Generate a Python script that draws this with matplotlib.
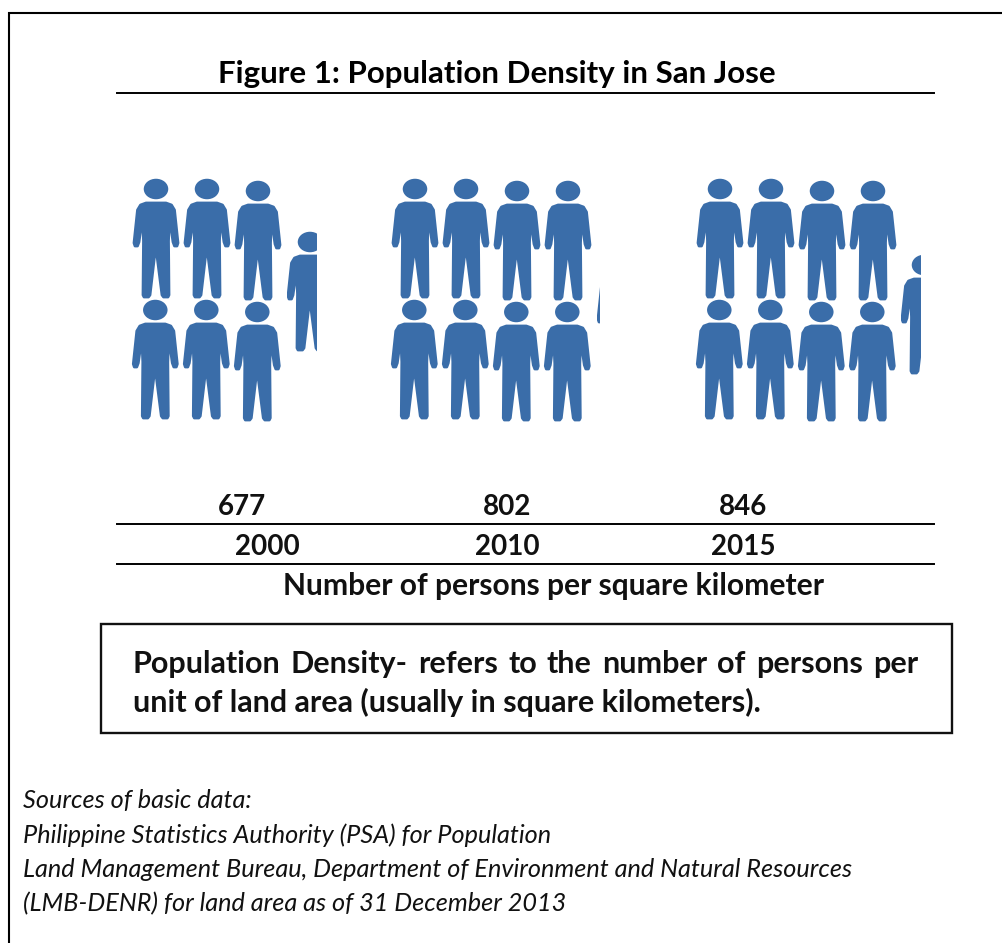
import numpy as np
import matplotlib
matplotlib.use("Agg")
import matplotlib.pyplot as plt
from matplotlib.path import Path
from matplotlib.patches import PathPatch, Ellipse, Rectangle

years = ["2000", "2010", "2015"]
density = [677, 802, 846]
partial_visible = [0.65, 0.06, 0.43]
title = "Figure 1: Population Density in San Jose"
unit_label = "Number of persons per square kilometer"
definition = ["Population Density- refers to the number of persons per",
              "unit of land area (usually in square kilometers)."]
sources = ["Sources of basic data:",
           "Philippine Statistics Authority (PSA) for Population",
           "Land Management Bureau, Department of Environment and Natural Resources",
           "(LMB-DENR) for land area as of 31 December 2013"]

W, H = 1003, 943
plt.rcParams["font.family"] = ["Lato", "DejaVu Sans"]
fig = plt.figure(figsize=(W / 100, H / 100), dpi=100)
ax = fig.add_axes([0, 0, 1, 1])
ax.set_xlim(0, W)
ax.set_ylim(H, 0)
ax.axis("off")

BLUE = "#3A6DA9"
half = [(0, 24), (-10, 24), (-15.5, 26), (-18.5, 31), (-22, 64), (-21, 67), (-18.5, 67),
        (-17, 63), (-13.5, 38), (-12.5, 62), (-13, 116), (-12, 118), (-7.5, 118),
        (-6, 116), (-0.5, 69), (0, 69)]
body = half + [(-x, y) for x, y in half[-3:0:-1]]
person_path = Path(np.array(body + [body[0]], dtype=float), closed=True)


def person(cx, top, clip=None):
    verts = person_path.vertices + [cx, top]
    p = PathPatch(Path(verts, closed=True), fc=BLUE, ec=BLUE, lw=2.0, joinstyle="round", zorder=3)
    h = Ellipse((cx, top + 10), 24.5, 20.5, fc=BLUE, ec="none", zorder=3)
    ax.add_patch(p)
    ax.add_patch(h)
    if clip is not None:
        r = Rectangle((cx - 23, top - 2), 46 * clip, 122, transform=ax.transData)
        p.set_clip_path(r)
        h.set_clip_path(r)


group_cx = [156, 415, 720]
group_step = [51, 51, 51]
partial_top = [232, 255, 255]
partial_cx = [310, 620, 924]
for g, v in enumerate(density):
    n = v // 100
    for i in range(n):
        col, row = i // 2, i % 2
        drift = 2 if col >= 2 else 0
        person(group_cx[g] + col * group_step[g] - (row * 0.7), 179 + drift + row * 121, None)
    person(partial_cx[g], partial_top[g], partial_visible[g])

# frame and rules
ax.plot([9, 9, W], [H, 13, 13], color="black", lw=1.5, solid_joinstyle="miter")
for y in [93, 523.5, 564]:
    ax.plot([117, 934], [y, y], color="black", lw=1.4)
ax.add_patch(Rectangle((101, 624), 851, 109, fc="white", ec="#111111", lw=1.7, zorder=2))

ax.text(496.5, 83, title, ha="center", va="baseline", fontsize=22.5, fontweight="bold", color="#000000")
for x, v in zip([242, 507, 743], density):
    ax.text(x, 515, str(v), ha="center", va="baseline", fontsize=20, fontweight="bold", color="#111111")
for x, y_ in zip([267, 507, 743], years):
    ax.text(x, 555, y_, ha="center", va="baseline", fontsize=20, fontweight="bold", color="#111111")
ax.text(554, 595, unit_label, ha="center", va="baseline", fontsize=21.6, fontweight="bold", color="#111111")

# definition: first line justified between the box margins
FS = 22
fig.canvas.draw()
r = fig.canvas.get_renderer()
words = definition[0].split(" ")
arts = [ax.text(0, 673, w, fontsize=FS, fontweight="bold", va="baseline", zorder=4, color="#111111") for w in words]
widths = [a.get_window_extent(r).width for a in arts]
gap = (918 - 133 - sum(widths)) / (len(words) - 1)
x = 133
for a, w_ in zip(arts, widths):
    a.set_x(x)
    x += w_ + gap
ax.text(133, 712, definition[1], fontsize=FS, fontweight="bold", va="baseline", zorder=4, color="#111111")

for y, line in zip([808, 843, 877, 911], sources):
    ax.text(23, y, line, fontsize=18.2, style="italic", va="baseline", color="#111111")

fig.savefig("out.png", dpi=100)
